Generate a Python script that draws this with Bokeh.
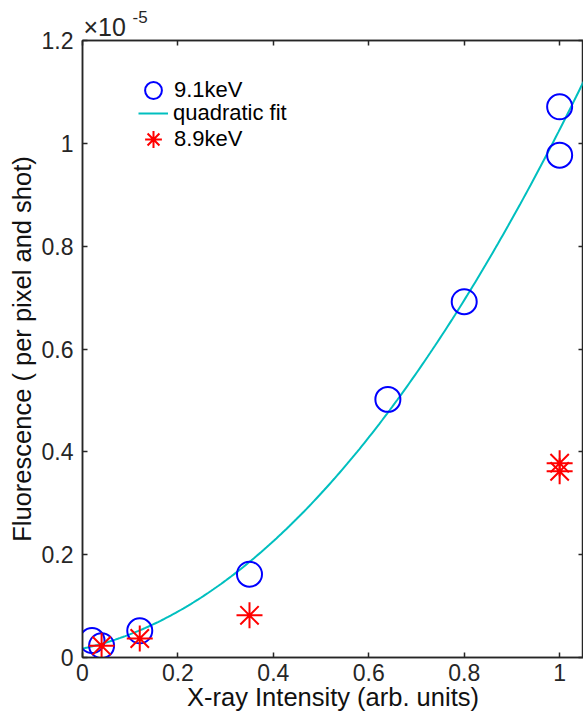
import numpy as np
from bokeh.plotting import figure
from bokeh.models import Range1d, LinearAxis, Legend, LegendItem, Label, FixedTicker
from bokeh.embed import file_html
from bokeh.resources import INLINE

# ---- data ----
x_91 = [0.02, 0.04, 0.12, 0.35, 0.64, 0.80, 1.00, 1.00]
y_91 = [0.033, 0.023, 0.052, 0.162, 0.502, 0.692, 0.977, 1.071]
x_89 = [0.04, 0.12, 0.35, 1.00, 1.00]
y_89 = [0.023, 0.037, 0.082, 0.378, 0.362]

x_ticks = [0, 0.2, 0.4, 0.6, 0.8, 1.0]
x_tick_labels = ["0", "0.2", "0.4", "0.6", "0.8", "1"]
y_ticks = [0, 0.2, 0.4, 0.6, 0.8, 1.0, 1.2]
y_tick_labels = ["0", "0.2", "0.4", "0.6", "0.8", "1", "1.2"]

label_91 = "9.1keV"
label_fit = "quadratic fit"
label_89 = "8.9keV"
x_title = "X-ray Intensity (arb. units)"
y_title = "Fluorescence ( per pixel and shot)"
exp_base = "\u00d710"
exp_power = "-5"

# quadratic fit of the 9.1keV series
coef = np.polyfit(x_91, y_91, 2)
x_fit = np.linspace(0, 1.05, 200)
y_fit = np.polyval(coef, x_fit)

FONT = "Liberation Sans"
AX = "#262626"

p = figure(frame_width=501, frame_height=617,
           min_border_left=82, min_border_right=0, min_border_top=38, min_border_bottom=60,
           x_range=Range1d(0, 1.05), y_range=Range1d(0, 1.2),
           output_backend="svg", toolbar_location=None)
p.xgrid.visible = False
p.ygrid.visible = False
p.outline_line_color = AX
p.outline_line_width = 1.5
p.background_fill_color = "white"
p.border_fill_color = "white"

for ax, ticks, labels in ((p.xaxis[0], x_ticks, x_tick_labels), (p.yaxis[0], y_ticks, y_tick_labels)):
    ax.ticker = FixedTicker(ticks=ticks)
    ax.major_label_overrides = {t: l for t, l in zip(ticks, labels)}
    ax.minor_tick_line_color = None
    ax.major_tick_in = 5
    ax.major_tick_out = 0
    ax.axis_line_color = AX
    ax.axis_line_width = 1.5
    ax.major_tick_line_color = AX
    ax.major_tick_line_width = 1.5
    ax.major_label_text_font = FONT
    ax.major_label_text_font_size = "23px"
    ax.major_label_text_color = AX
    ax.axis_label_text_font = FONT
    ax.axis_label_text_font_size = "25.5px"
    ax.axis_label_text_font_style = "normal"
    ax.axis_label_text_color = "#111111"

p.xaxis.axis_label = x_title
p.yaxis.axis_label = y_title
p.xaxis.major_label_standoff = 6
p.yaxis.major_label_standoff = 9
p.xaxis.axis_label_standoff = -1
p.yaxis.axis_label_standoff = 3

# mirror ticks on top and right (MATLAB box)
top = LinearAxis(ticker=FixedTicker(ticks=x_ticks))
right = LinearAxis(ticker=FixedTicker(ticks=y_ticks))
for ax, ticks in ((top, x_ticks), (right, y_ticks)):
    ax.major_label_overrides = {t: "" for t in ticks}
    ax.major_label_text_font_size = "1px"
    ax.major_label_text_color = None
    ax.major_label_standoff = 0
    ax.minor_tick_line_color = None
    ax.major_tick_in = 5
    ax.major_tick_out = 0
    ax.axis_line_color = AX
    ax.axis_line_width = 1.5
    ax.major_tick_line_color = AX
    ax.major_tick_line_width = 1.5
p.add_layout(top, "above")
p.add_layout(right, "right")

r_fit = p.line(x_fit, y_fit, line_color="#00bfbf", line_width=2)
r_91 = p.scatter(x_91, y_91, marker="circle", size=25, fill_color=None,
                 line_color="#0000ff", line_width=2)
r_89 = p.scatter(x_89, y_89, marker="asterisk", size=26,
                 line_color="#ff0000", line_width=2)

def make_legend(item, loc, gw, gh, standoff):
    lg = Legend(items=[item], location=loc, orientation="vertical",
                glyph_width=gw, glyph_height=gh, label_standoff=standoff,
                padding=0, margin=0, spacing=0,
                border_line_color=None, background_fill_color=None,
                background_fill_alpha=0,
                label_text_font=FONT, label_text_font_size="22px",
                label_text_color="#000000")
    p.add_layout(lg, "center")

make_legend(LegendItem(label=label_91, renderers=[r_91]), (50, 546), 42, 42, 0)
make_legend(LegendItem(label=label_fit, renderers=[r_fit]), (56, 531), 30, 24, 5)
make_legend(LegendItem(label=label_89, renderers=[r_89]), (50, 497), 42, 42, 0)

# "x10^-5" multiplier: anchored at the frame's top-left corner (data coords),
# but living in the panel above the frame so that it is not clipped
p.add_layout(Label(x=0, y=1.2, text=exp_base, x_offset=1, y_offset=14,
                   text_font=FONT, text_font_size="25px", text_color=AX,
                   text_baseline="middle", text_align="left"), "above")
p.add_layout(Label(x=0, y=1.2, text=exp_power, x_offset=50, y_offset=24,
                   text_font=FONT, text_font_size="17px", text_color=AX,
                   text_baseline="middle", text_align="left"), "above")

open("out.html", "w").write(file_html(p, INLINE))
